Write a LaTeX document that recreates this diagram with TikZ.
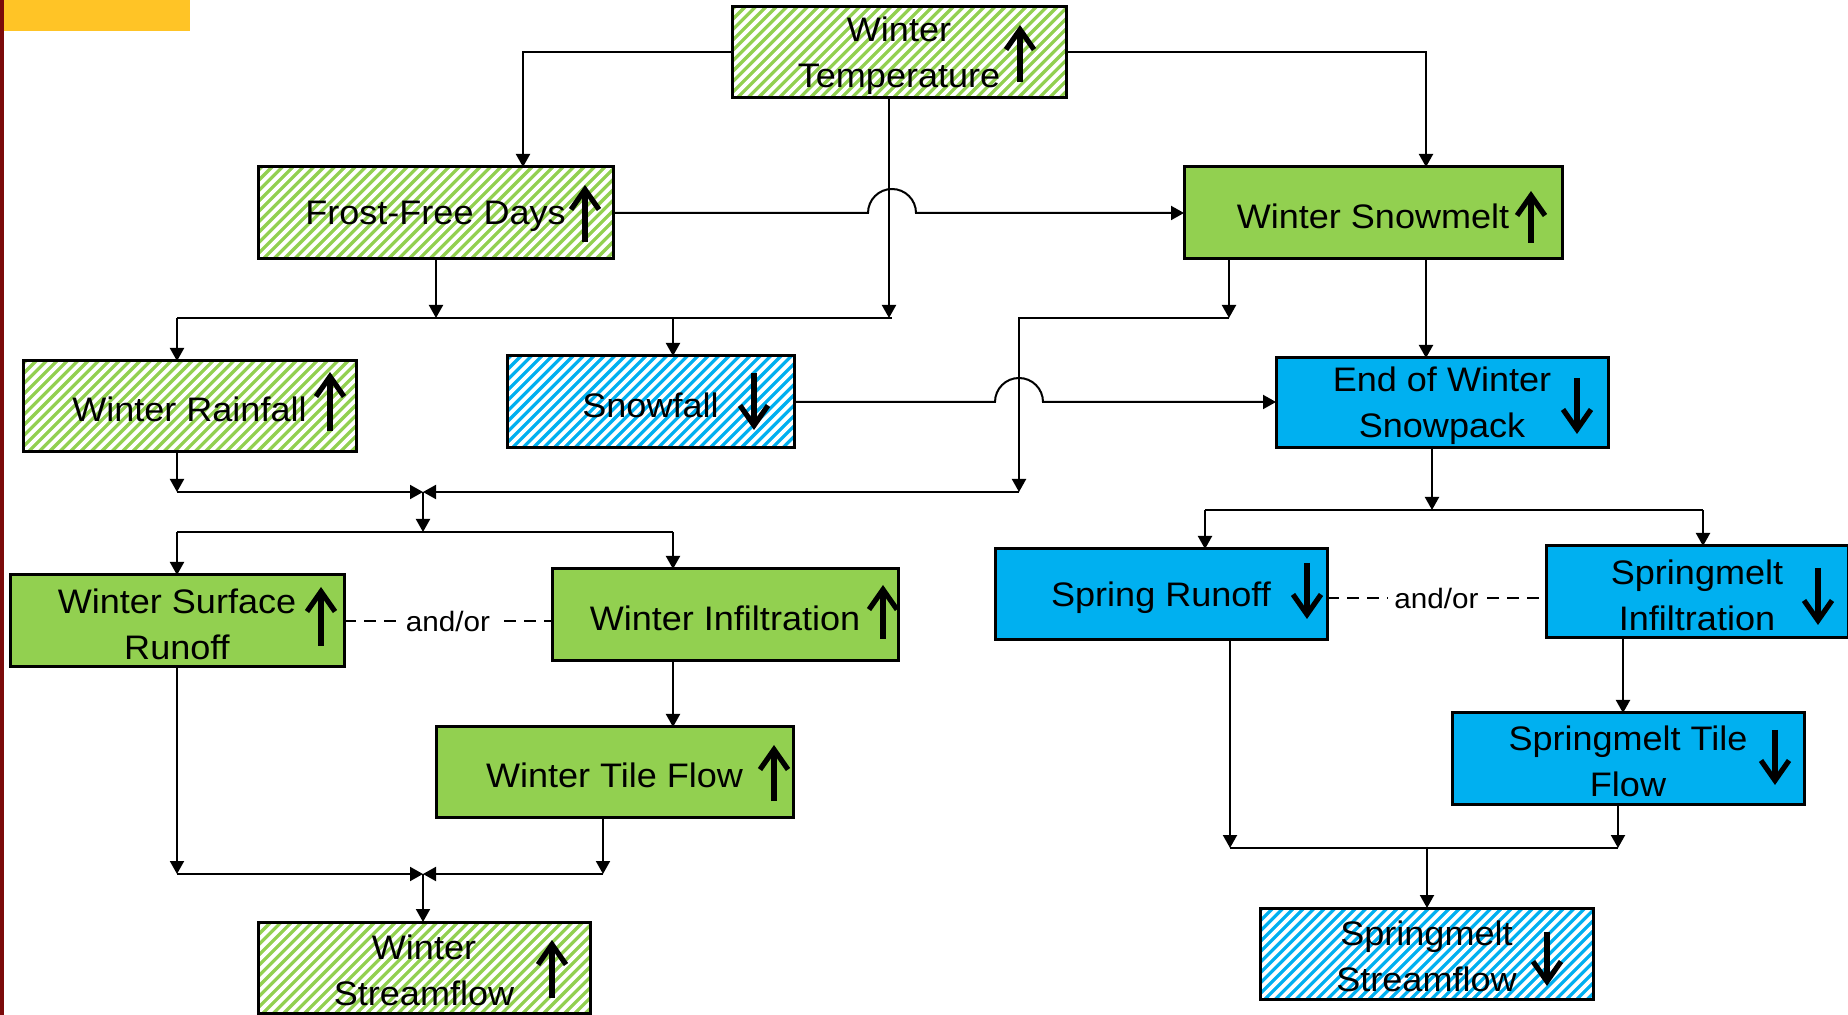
\documentclass[tikz,border=0pt]{standalone}
\usepackage{fontspec}
\setmainfont{Liberation Sans}[FakeStretch=1.06]
\usetikzlibrary{arrows.meta,calc}
\definecolor{gfill}{HTML}{92D050}
\definecolor{bfill}{HTML}{00B0F0}
\definecolor{ybox}{HTML}{FFC426}
\definecolor{rbar}{HTML}{7B0A0A}
\tikzset{
  box/.style={draw=black, line width=1.5pt, inner sep=0pt, outer sep=0pt},
  gbox/.style={box, fill=gfill},
  bbox/.style={box, fill=bfill},
  boxtext/.style={inner sep=0pt, align=center, font=\fontsize{17}{23}\selectfont},
  stripes/.style={path picture={\foreach \k in {-12,...,40}{\draw[white,line width=1.9pt] ([xshift=\k*5.2pt]path picture bounding box.south west) -- ++(60pt,60pt);}}},
  conn/.style={line width=1pt, -{Triangle[length=6.5pt,width=7pt]}},
  plain/.style={line width=1pt},
  dashln/.style={line width=1.4pt, dash pattern=on 6pt off 4pt},
  trend/.style={line width=2.6pt, -{Straight Barb[length=10pt,width=14pt]}},
  orlabel/.style={fill=white, inner sep=3pt, font=\fontsize{14}{16}\selectfont},
}
\newcommand\mkbox[7]{\node[#6, minimum width={(#4-#2)*0.5pt}, minimum height={(#5-#3)*0.5pt}] (#1) at ({(#2+#4)/2},{(#3+#5)/2}) {};
\node[boxtext, yshift=-1.6pt] (#1-t) at (#1.center) {#7};}
\begin{document}
\begin{tikzpicture}[x=0.5pt,y=-0.5pt]
\useasboundingbox (0,0) rectangle (1848,1015);
\fill[ybox] (4,0) rectangle (190,31);
\fill[rbar] (0,0) rectangle (4,1015);
% boxes
\mkbox{wt}{732}{7}{1066}{98}{gbox,stripes}{Winter\\Temperature}
\mkbox{ffd}{258}{167}{613}{259}{gbox,stripes}{Frost-Free Days}
\mkbox{sm}{1184}{167}{1562}{259}{gbox}{Winter Snowmelt}
\mkbox{rain}{23}{361}{356}{452}{gbox,stripes}{Winter Rainfall}
\mkbox{snowf}{507}{356}{794}{448}{bbox,stripes}{Snowfall}
\mkbox{sp}{1276}{358}{1608}{448}{bbox}{End of Winter\\Snowpack}
\mkbox{sr}{10}{575}{344}{667}{gbox}{Winter Surface\\Runoff}
\mkbox{inf}{552}{569}{898}{661}{gbox}{Winter Infiltration}
\mkbox{tf}{436}{727}{793}{817}{gbox}{Winter Tile Flow}
\mkbox{ws}{258}{922}{590}{1013}{gbox,stripes}{Winter\\Streamflow}
\mkbox{spr}{995}{549}{1327}{640}{bbox}{Spring Runoff}
\mkbox{smi}{1546}{546}{1848}{638}{bbox}{Springmelt\\Infiltration}
\mkbox{smt}{1452}{713}{1804}{804}{bbox}{Springmelt Tile\\Flow}
\mkbox{sms}{1260}{908}{1593}{999}{bbox,stripes}{Springmelt\\Streamflow}
% trend arrows
\draw[trend] (1020,82) -- (1020,25);
\draw[trend] (585,242) -- (585,185);
\draw[trend] (1531,243) -- (1531,191);
\draw[trend] (330,431) -- (330,372);
\draw[trend] (754,373) -- (754,430);
\draw[trend] (1577,378) -- (1577,434);
\draw[trend] (321,646) -- (321,587);
\draw[trend] (883,639) -- (883,585);
\draw[trend] (774,801) -- (774,745);
\draw[trend] (552,998) -- (552,940);
\draw[trend] (1307,563) -- (1307,619);
\draw[trend] (1818,568) -- (1818,625);
\draw[trend] (1775,730) -- (1775,785);
\draw[trend] (1547,932) -- (1547,986);
% junctions
\coordinate (jA) at (423,492);
\coordinate (jB) at (423,874);
% connectors
\draw[conn] (wt.west) -| (523,0 |- ffd.north);
\draw[conn] (wt.east) -| (1426,0 |- sm.north);
\draw[conn] (889,0 |- wt.south) -- (889,318);
\draw[plain] (177,318) -- (892,318);
\draw[conn] (ffd.east) -- (868,213) arc[start angle=180,end angle=360,radius=24] -- (sm.west);
\draw[conn] (436,0 |- ffd.south) -- (436,318);
\draw[conn] (177,318) -- (177,0 |- rain.north);
\draw[conn] (673,318) -- (673,0 |- snowf.north);
\draw[conn] (1229,0 |- sm.south) -- (1229,318);
\draw[conn] (1229,318) -| (1019,492);
\draw[conn] (1019,492) -- (jA);
\draw[conn] (snowf.east) -- (995,402) arc[start angle=180,end angle=360,radius=24] -- (sp.west |- snowf.east);
\draw[conn] (1426,0 |- sm.south) -- (1426,0 |- sp.north);
\draw[conn] (177,0 |- rain.south) -- (177,492);
\draw[conn] (177,492) -- (jA);
\draw[conn] (jA) -- (423,532);
\draw[plain] (177,532) -- (673,532);
\draw[conn] (177,532) -- (177,0 |- sr.north);
\draw[conn] (673,532) -- (673,0 |- inf.north);
\draw[dashln] (sr.east) -- node[orlabel]{and/or} (inf.west |- sr.east);
\draw[conn] (673,0 |- inf.south) -- (673,0 |- tf.north);
\draw[conn] (177,0 |- sr.south) -- (177,874);
\draw[conn] (177,874) -- (jB);
\draw[conn] (603,0 |- tf.south) -- (603,874);
\draw[conn] (603,874) -- (jB);
\draw[conn] (jB) -- (423,0 |- ws.north);
\draw[conn] (1432,0 |- sp.south) -- (1432,510);
\draw[plain] (1205,510) -- (1703,510);
\draw[conn] (1205,510) -- (1205,0 |- spr.north);
\draw[conn] (1703,510) -- (1703,0 |- smi.north);
\draw[dashln] (spr.east |- 0,598) -- node[orlabel]{and/or} (smi.west |- 0,598);
\draw[conn] (1623,0 |- smi.south) -- (1623,0 |- smt.north);
\draw[conn] (1230,0 |- spr.south) -- (1230,848);
\draw[plain] (1230,848) -- (1618,848);
\draw[conn] (1618,0 |- smt.south) -- (1618,848);
\draw[conn] (1427,848) -- (1427,0 |- sms.north);
\end{tikzpicture}
\end{document}
